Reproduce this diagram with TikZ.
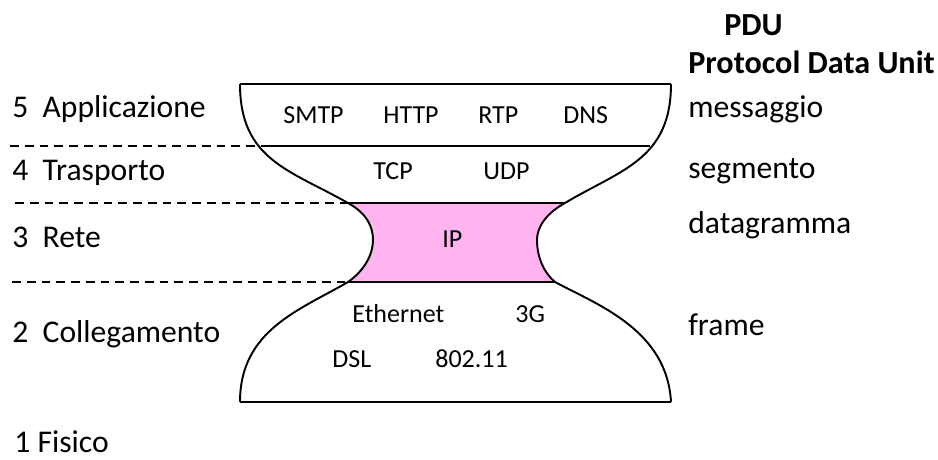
\documentclass[tikz,border=0pt]{standalone}
\usepackage{fontspec}
\setmainfont{Carlito}
\usepackage{tikz}
\tikzset{
layer/.style={font=\fontsize{18}{20}\selectfont, anchor=base west, inner sep=0pt}, % layer names and PDU names
title/.style={layer, font=\fontsize{18.3}{21}\selectfont\bfseries}, % PDU heading
proto/.style={font=\fontsize{14.8}{17}\selectfont, anchor=base west, inner sep=0pt}, % protocols inside the hourglass
border/.style={line width=1.1pt}, % outline of the hourglass
divider/.style={line width=0.9pt, dash pattern=on 5pt off 3.4pt}, % dashed lines between layers
}
\definecolor{ippink}{RGB}{255,180,240}

\begin{document}
\begin{tikzpicture}[x=0.02cm, y=-0.02cm]
  \useasboundingbox (0,0) rectangle (938,460);

  % Corners of the hourglass
  \coordinate (tl) at (240,84);   \coordinate (tr) at (671,84);
  \coordinate (ml) at (261,146);  \coordinate (mr) at (650,146);
  \coordinate (pl) at (348,203);  \coordinate (pr) at (565,203);
  \coordinate (ql) at (348,282);  \coordinate (qr) at (555,282);
  \coordinate (bl) at (240,402);  \coordinate (br) at (671,402);
  \coordinate (d1) at (10,146);   \coordinate (d2) at (15,203);
  \coordinate (d3) at (12,282);

  % Network layer
  \fill[ippink] (pl) -- (pr) .. controls (545,214) and (537,228) .. (537,240)
    .. controls (537,256) and (543,272) .. (qr) -- (ql)
    .. controls (365,270) and (373,254) .. (373,240)
    .. controls (373,228) and (368,214) .. (pl) -- cycle;

  % Outline
  \draw[border] (tl) -- (tr);
  \draw[border] (ml) -- (mr);
  \draw[border] (pl) -- (pr);
  \draw[border] (ql) -- (qr);
  \draw[border] (bl) -- (br);
  \draw[border] (tl) .. controls (240,160) and (290,170) .. (pl)
    .. controls (368,214) and (373,228) .. (373,240)
    .. controls (373,254) and (365,270) .. (ql)
    .. controls (300,310) and (240,330) .. (bl);
  \draw[border] (tr) .. controls (671,160) and (620,170) .. (pr)
    .. controls (545,214) and (537,228) .. (537,240)
    .. controls (537,256) and (543,272) .. (qr)
    .. controls (598,305) and (667,330) .. (br);

  % Dashed separators
  \draw[divider] (d1) -- (ml);
  \draw[divider] (d2) -- (pl);
  \draw[divider] (d3) -- (ql);

  % Layers
  \node[layer] (app) at (12,117) {5\ \ Applicazione};
  \node[layer] (trasp) at (12,180) {4\ \ Trasporto};
  \node[layer] (rete) at (12,247) {3\ \ Rete};
  \node[layer] (coll) at (12,342) {2\ \ Collegamento};
  \node[layer] (fis) at (14,452) {1 Fisico};

  % PDU
  \node[title] (pdu) at (724,35) {PDU};
  \node[title] (pdufull) at (688,73) {Protocol Data Unit};
  \node[layer] (msg) at (688,117) {messaggio};
  \node[layer] (seg) at (688,178) {segmento};
  \node[layer] (dgram) at (688,233) {datagramma};
  \node[layer] (frm) at (688,335) {frame};

  % Protocols
  \node[proto] (smtp) at (283,123) {SMTP};
  \node[proto] (http) at (383,123) {HTTP};
  \node[proto] (rtp) at (478,123) {RTP};
  \node[proto] (dns) at (563,123) {DNS};
  \node[proto] (tcp) at (373,179) {TCP};
  \node[proto] (udp) at (483,179) {UDP};
  \node[proto] (ip) at (442,247) {IP};
  \node[proto] (eth) at (352,322) {Ethernet};
  \node[proto] (g3) at (515,322) {3G};
  \node[proto] (dsl) at (332,367) {DSL};
  \node[proto] (wifi) at (435,367) {802.11};
\end{tikzpicture}
\end{document}
